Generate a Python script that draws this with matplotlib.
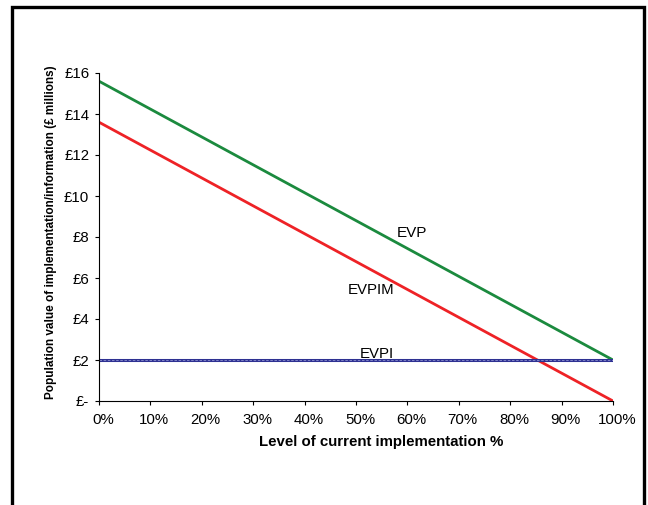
import matplotlib
matplotlib.use("Agg")
import matplotlib.pyplot as plt
from matplotlib.patches import Rectangle
from matplotlib.transforms import ScaledTranslation

plt.rcParams['font.family'] = ['Liberation Sans', 'DejaVu Sans']

implementation = [0, 100]
evp = [15.6, 2.0]
evpim = [13.6, 0.0]
evpi = [2.0, 2.0]
yticks = [0, 2, 4, 6, 8, 10, 12, 14, 16]
ytick_labels = ['£-', '£2', '£4', '£6', '£8', '£10', '£12', '£14', '£16']
xticks = [0, 10, 20, 30, 40, 50, 60, 70, 80, 90, 100]
xtick_labels = [f'{v}%' for v in xticks]

W, H = 648, 505
fig = plt.figure(figsize=(6.48, 5.05), dpi=100)
ax = fig.add_axes([99/W, 1-401/H, (613-99)/W, (401-73)/H])

ax.plot(implementation, evp, color='#1b8a3e', lw=2, solid_capstyle='butt')
ax.plot(implementation, evpim, color='#ee2226', lw=2, solid_capstyle='butt')
ax.plot(implementation, evpi, color='#2e3192', lw=2.2, solid_capstyle='butt')
ax.plot(implementation, evpi, color='#8c8fd0', lw=0.6, ls=(0, (3, 2)))

ax.text(58, 8.2, 'EVP', fontsize=11, va='center', ha='left')
ax.text(48.4, 5.4, 'EVPIM', fontsize=10.8, va='center', ha='left')
ax.text(50.8, 2.3, 'EVPI', fontsize=10.8, va='center', ha='left')

ax.set_xlim(0, 100)
ax.set_ylim(0, 16)
ax.set_xticks(xticks)
ax.set_xticklabels(xtick_labels, fontsize=10.8)
ax.set_yticks(yticks)
ax.set_yticklabels(ytick_labels, fontsize=10.8)
ax.tick_params(direction='out', length=3, width=0.8)
ax.tick_params(axis='x', pad=6)
ax.tick_params(axis='y', pad=4)
shift = ScaledTranslation(4/100, 0, fig.dpi_scale_trans)
for lab in ax.get_xticklabels():
    lab.set_transform(lab.get_transform() + shift)
for s in ['top', 'right']:
    ax.spines[s].set_visible(False)
for s in ['left', 'bottom']:
    ax.spines[s].set_linewidth(0.8)

fig.text(381/W, 1-442/H, 'Level of current implementation %', fontsize=10.8,
         fontweight='bold', ha='center', va='center')
fig.text(51/W, 1-232/H, 'Population value of implementation/information (£ millions)',
         fontsize=8.5, fontweight='bold', rotation=90, ha='center', va='center')

fig.patches.append(Rectangle((12/W, -0.05), (644-12)/W, 1.05 - 7/H, transform=fig.transFigure,
                             fill=False, edgecolor='black', lw=2.4))

fig.savefig('out.png', dpi=100)
